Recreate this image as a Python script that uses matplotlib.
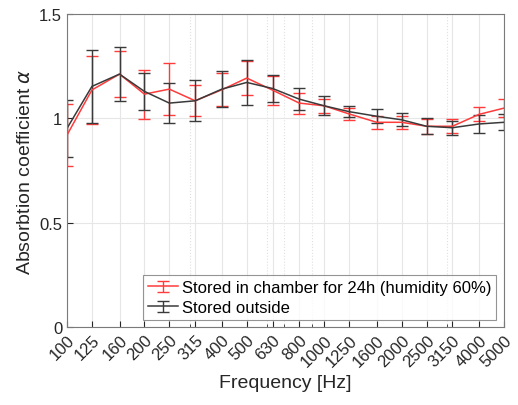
import numpy as np
import matplotlib.pyplot as plt
from matplotlib.ticker import FixedLocator, LogLocator, NullFormatter
from matplotlib.legend_handler import HandlerErrorbar
from matplotlib.container import ErrorbarContainer

plt.rcParams['font.family'] = ['Liberation Sans', 'DejaVu Sans']
plt.rcParams['mathtext.fontset'] = 'dejavusans'

# === Data ===
freqs = [100, 125, 160, 200, 250, 315, 400, 500, 630, 800,
         1000, 1250, 1600, 2000, 2500, 3150, 4000, 5000]
freq_labels = [str(f) for f in freqs]

chamber = [0.92, 1.136, 1.212, 1.116, 1.14, 1.084, 1.137, 1.193, 1.135, 1.073,
           1.06, 1.021, 0.981, 0.981, 0.962, 0.962, 1.019, 1.049]
chamber_err = [0.147, 0.165, 0.11, 0.118, 0.126, 0.074, 0.08, 0.08, 0.07, 0.05,
               0.035, 0.028, 0.03, 0.03, 0.035, 0.033, 0.034, 0.044]

outside = [0.952, 1.153, 1.212, 1.129, 1.073, 1.084, 1.14, 1.172, 1.143, 1.092,
           1.06, 1.032, 1.01, 0.993, 0.962, 0.955, 0.973, 0.981]
outside_err = [0.136, 0.176, 0.13, 0.09, 0.095, 0.098, 0.085, 0.109, 0.064, 0.054,
               0.045, 0.028, 0.034, 0.032, 0.038, 0.033, 0.044, 0.038]

# === Plot ===
fig = plt.figure(figsize=(5.18, 4.06), dpi=100)
ax = fig.add_axes([67 / 518, 78 / 406, 437 / 518, 313 / 406])

ax.errorbar(freqs, chamber, yerr=chamber_err, color='#ff3b3b', lw=1.1,
            capsize=4, elinewidth=1.0, capthick=1.0,
            label='Stored in chamber for 24h (humidity 60%)')
ax.errorbar(freqs, outside, yerr=outside_err, color='#3a3a3a', lw=1.1,
            capsize=4, elinewidth=1.0, capthick=1.0,
            label='Stored outside')

ax.set_xscale('log')
ax.set_xlim(100, 5000)
ax.set_ylim(0, 1.5)
ax.xaxis.set_major_locator(FixedLocator(freqs))
ax.set_xticks(freqs, freq_labels, rotation=45, ha='right', rotation_mode='anchor')
ax.xaxis.set_minor_locator(LogLocator(base=10, subs=np.arange(2, 10)))
ax.xaxis.set_minor_formatter(NullFormatter())
ax.set_yticks([0, 0.5, 1, 1.5], ['0', '0.5', '1', '1.5'])

ax.grid(True, which='major', color='#e6e6e6', lw=0.8)
ax.grid(True, which='minor', axis='x', color='#e0e0e0', lw=0.8, ls=':')
ax.set_axisbelow(True)

ax.tick_params(which='both', direction='in', colors='#262626', labelsize=12)
ax.tick_params(which='major', length=4)
ax.tick_params(which='minor', length=2)
for s in ax.spines.values():
    s.set_color('#7a7a7a')
    s.set_linewidth(0.8)

ax.set_xlabel('Frequency [Hz]', fontsize=14, color='#262626', labelpad=4)
ax.set_ylabel(r'Absorbtion coefficient $\alpha$', fontsize=14, color='#262626')

leg = ax.legend(loc='lower right', bbox_to_anchor=(0.982, 0.022), borderaxespad=0,
                fontsize=12, frameon=True, fancybox=False, edgecolor='#7a7a7a',
                borderpad=0.3, labelspacing=0.3, handlelength=1.8, handletextpad=0.2,
                handler_map={ErrorbarContainer: HandlerErrorbar(xerr_size=0.25, yerr_size=0.33)})
leg.get_frame().set_linewidth(0.8)

plt.savefig('out.png', dpi=100)
